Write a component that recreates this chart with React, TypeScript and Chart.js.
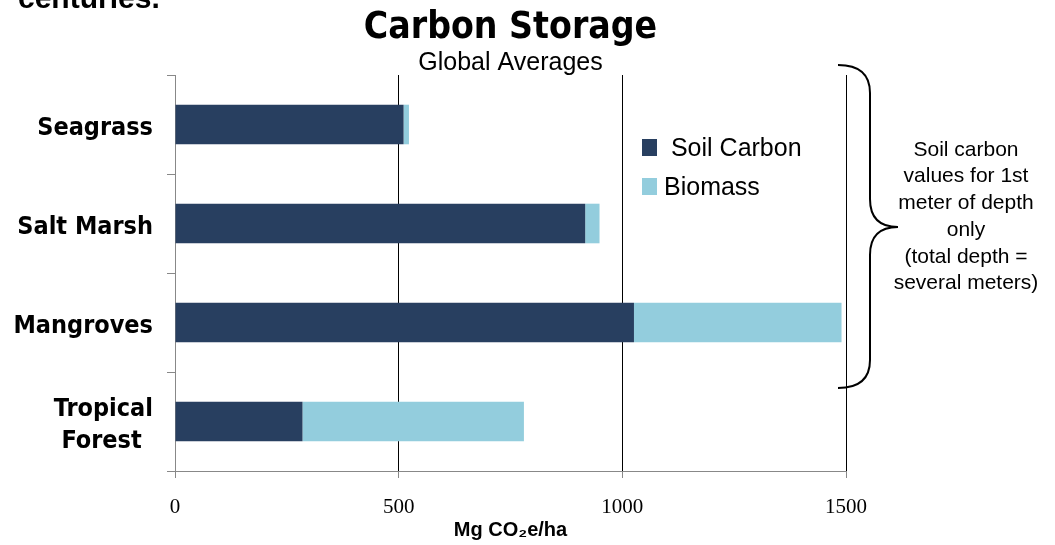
import React, { useEffect, useRef } from 'react';
import { Chart, registerables } from 'chart.js';

Chart.register(...registerables);

const categories: (string | string[])[] = ['Seagrass', 'Salt Marsh', 'Mangroves', ['Tropical', 'Forest\u2002']];
const soilCarbon = [511, 917, 1026, 285];
const biomass = [12, 32, 464, 495];
const seriesNames = ['Soil Carbon', 'Biomass'];
const seriesColors = ['#283F60', '#93CDDD'];
const xMin = 0;
const xMax = 1500;
const xStep = 500;
const chartTitle = 'Carbon Storage';
const chartSubtitle = 'Global Averages';
const xAxisTitle = 'Mg CO₂e/ha';
const noteLines = ['Soil carbon', 'values for 1st', 'meter of depth', 'only', '(total depth =', 'several meters)'];
const cutOffText = 'centuries.';

const W = 1055;
const H = 545;

const overlayPlugin = {
  id: 'overlay',
  afterDraw(chart: any) {
    const ctx = chart.ctx as CanvasRenderingContext2D;
    const area = chart.chartArea;
    const cx = (area.left + area.right) / 2;
    ctx.save();
    ctx.fillStyle = '#000';

    // cut-off text at top-left
    ctx.font = 'bold 30px "Liberation Sans", Arial, sans-serif';
    ctx.textAlign = 'left';
    ctx.textBaseline = 'alphabetic';
    ctx.fillText(cutOffText, 18, 8);

    // title
    ctx.font = 'bold 37px "DejaVu Sans Condensed", "DejaVu Sans", sans-serif';
    ctx.textAlign = 'center';
    ctx.textBaseline = 'middle';
    ctx.fillText(chartTitle, cx, 28);

    // subtitle
    ctx.font = '25px "Liberation Sans", Arial, sans-serif';
    ctx.fillText(chartSubtitle, cx, 63);

    // legend inside plot
    const legX = 642;
    const legY = [147, 186];
    ctx.font = '25px "Liberation Sans", Arial, sans-serif';
    ctx.textAlign = 'left';
    chart.data.datasets.forEach((ds: any, i: number) => {
      ctx.fillStyle = ds.backgroundColor;
      ctx.fillRect(legX, legY[i] - 8, 15, 17);
      ctx.fillStyle = '#000';
      ctx.fillText((i === 0 ? ' ' : '') + ds.label, legX + 22, legY[i] + 2);
    });

    // brace
    ctx.strokeStyle = '#000';
    ctx.lineWidth = 2;
    ctx.beginPath();
    ctx.moveTo(838, 65);
    ctx.quadraticCurveTo(870, 65, 870, 93);
    ctx.lineTo(870, 199);
    ctx.quadraticCurveTo(870, 227, 898, 227);
    ctx.quadraticCurveTo(870, 227, 870, 255);
    ctx.lineTo(870, 360);
    ctx.quadraticCurveTo(870, 388, 838, 388);
    ctx.stroke();

    // note text
    ctx.font = '21px "Liberation Sans", Arial, sans-serif';
    ctx.textAlign = 'center';
    ctx.textBaseline = 'middle';
    noteLines.forEach((line, i) => {
      ctx.fillText(line, 966, 150 + i * 26.7);
    });

    ctx.restore();
  },
};

export default function App() {
  const ref = useRef<HTMLCanvasElement | null>(null);

  useEffect(() => {
    const canvas = ref.current;
    if (!canvas) return;
    const chart = new Chart(canvas, {
      type: 'bar',
      data: {
        labels: categories,
        datasets: [
          { label: seriesNames[0], data: soilCarbon, backgroundColor: seriesColors[0], borderWidth: 0 },
          { label: seriesNames[1], data: biomass, backgroundColor: seriesColors[1], borderWidth: 0 },
        ],
      },
      options: {
        indexAxis: 'y',
        responsive: false,
        animation: false,
        devicePixelRatio: 1,
        layout: { padding: { top: 75, right: 209, left: 0, bottom: 0 } },
        datasets: { bar: { barPercentage: 0.4, categoryPercentage: 1 } },
        plugins: {
          legend: { display: false },
          title: { display: false },
          tooltip: { enabled: false },
        },
        scales: {
          x: {
            stacked: true,
            min: xMin,
            max: xMax,
            ticks: {
              stepSize: xStep,
              color: '#000',
              padding: 17,
              callback: (v: any) => String(v),
              font: { family: '"Liberation Serif", "Times New Roman", serif', size: 21 },
            },
            grid: {
              color: (c: any) => (c.tick && c.tick.value === 0 ? 'rgba(0,0,0,0)' : '#000'),
              lineWidth: 1,
              tickColor: '#888',
              tickLength: 7,
            },
            border: { color: '#888', width: 1 },
            title: {
              display: true,
              text: xAxisTitle,
              color: '#000',
              font: { family: '"Liberation Sans Narrow", "Liberation Sans", Arial, sans-serif', size: 20, weight: 'bold' },
              padding: { top: 0, bottom: 3 },
            },
            afterFit: (scale: any) => {
              scale.height = 74;
            },
          },
          y: {
            stacked: true,
            ticks: {
              color: '#000',
              padding: 14,
              labelOffset: 4,
              font: { family: '"DejaVu Sans Condensed", "DejaVu Sans", sans-serif', size: 25, weight: 'bold', lineHeight: 1.3 },
            },
            grid: {
              drawOnChartArea: false,
              color: '#888',
              tickLength: 8,
            },
            border: { color: '#888', width: 1 },
            afterFit: (scale: any) => {
              scale.width = 175;
            },
          },
        },
      },
      plugins: [overlayPlugin],
    });
    return () => chart.destroy();
  }, []);

  return (
    <div style={{ position: 'fixed', left: 0, top: 0, width: W, height: H, background: '#fff' }}>
      <canvas ref={ref} width={W} height={H} style={{ width: W, height: H, display: 'block' }} />
    </div>
  );
}
